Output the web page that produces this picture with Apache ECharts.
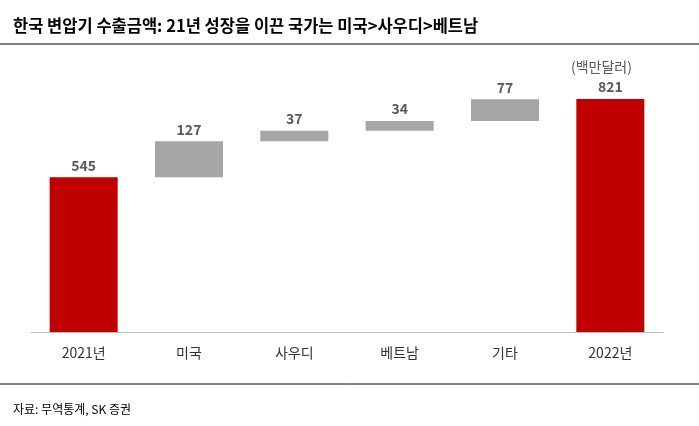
<!DOCTYPE html>
<html><head><meta charset="utf-8">
<script src="https://cdn.jsdelivr.net/npm/echarts@6/dist/echarts.min.js"></script>
<style>body{margin:0;background:#fff}#c{width:699px;height:426px}</style>
</head><body><div id="c"></div>
<script>
const categories = ['2021년','미국','사우디','베트남','기타','2022년'];
const baseValues = [0, 545, 672, 709, 743, 0];
const deltaValues = [545, 127, 37, 34, 77, 821];
const isTotal = [true,false,false,false,false,true];
const chart = echarts.init(document.getElementById('c'));
const font = '"Noto Sans CJK KR", "Noto Sans", sans-serif';
chart.setOption({
  animation:false,
  textStyle:{fontFamily:font},
  title:[{text:'한국 변압기 수출금액: 21년 성장을 이끈 국가는 미국>사우디>베트남',left:8,top:12,
    textStyle:{fontSize:16.5,fontWeight:'bold',color:'#000',fontFamily:font}},
    {text:'(백만달러)',left:566,top:55,textStyle:{fontSize:14,fontWeight:'normal',color:'#595959',fontFamily:font}},
    {text:'자료: 무역통계, SK 증권',left:8,top:398,textStyle:{fontSize:12,fontWeight:'normal',color:'#000',fontFamily:font}}],
  graphic:[
    {type:'line',shape:{x1:0,y1:44,x2:699,y2:44},style:{stroke:'#000',lineWidth:1}},
    {type:'line',shape:{x1:0,y1:384,x2:699,y2:384},style:{stroke:'#000',lineWidth:1}}
  ],
  grid:{left:31,right:36,top:76.5,bottom:94},
  xAxis:{type:'category',data:categories,axisTick:{show:false},
    axisLine:{lineStyle:{color:'#bfbfbf'}},
    axisLabel:{color:'#333',fontSize:14,margin:14,fontFamily:font}},
  yAxis:{type:'value',min:0,max:900,show:false,splitLine:{show:false}},
  series:[
    {type:'bar',stack:'w',data:baseValues,itemStyle:{color:'transparent'},barWidth:68,silent:true},
    {type:'bar',stack:'w',barWidth:68,
     data:deltaValues.map((v,i)=>({value:v,itemStyle:{color:isTotal[i]?'#c00000':'#a6a6a6'}})),
     label:{show:true,position:'top',color:'#595959',fontSize:14,fontWeight:'bold',distance:5,fontFamily:font}}
  ]
});
</script></body></html>
